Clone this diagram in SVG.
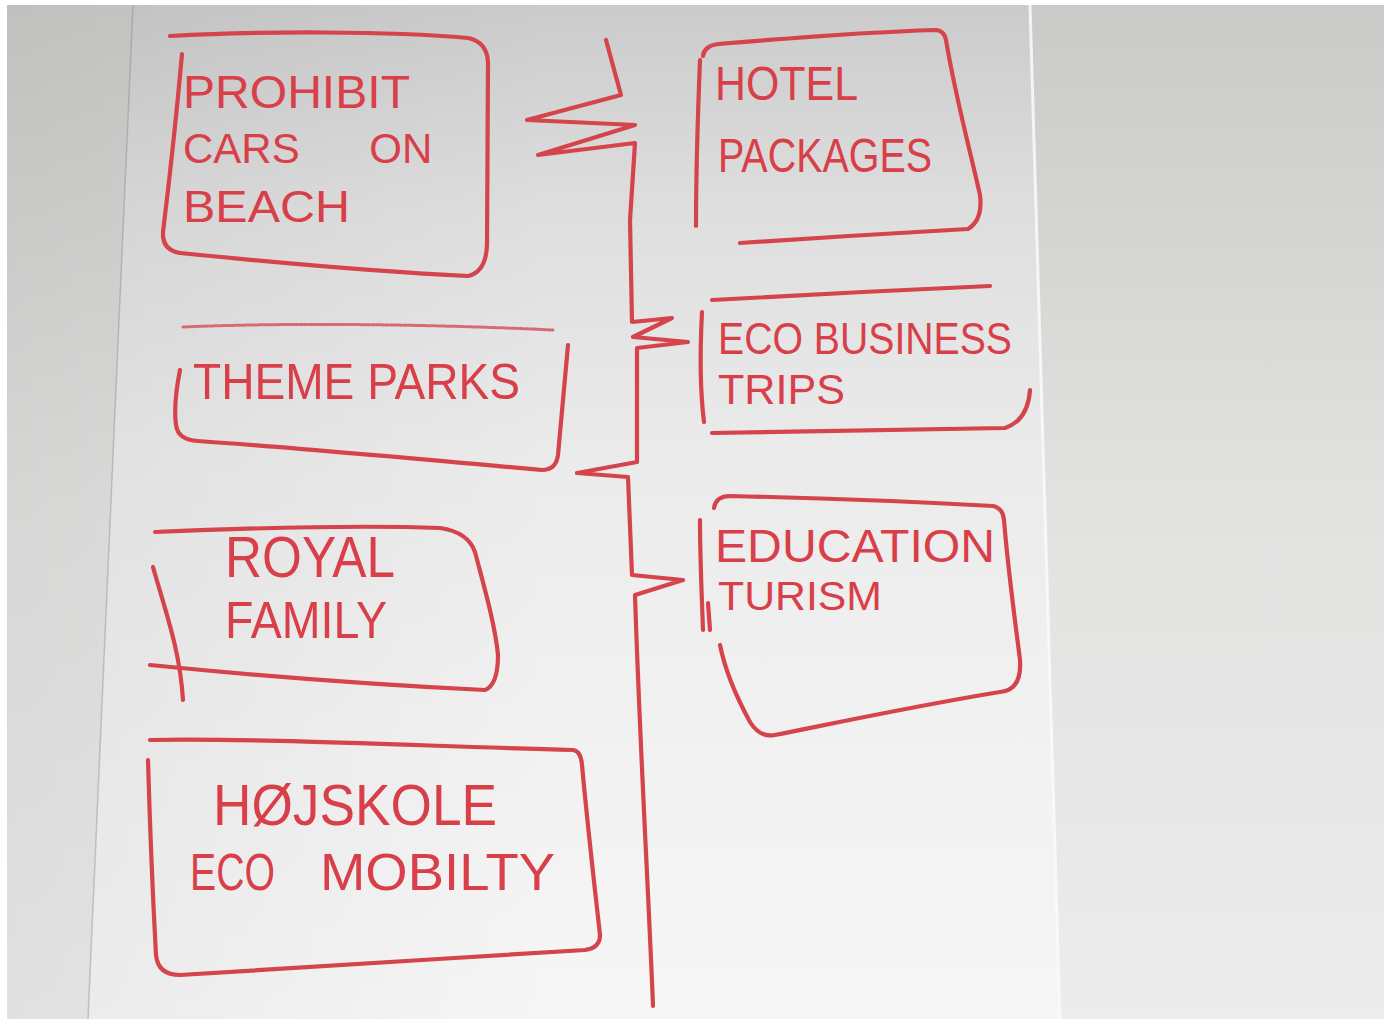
<svg xmlns="http://www.w3.org/2000/svg" width="1384" height="1019" viewBox="0 0 1384 1019">
<style>
.ink{fill:none;stroke:#d5434b;stroke-width:4.2;stroke-linecap:round;stroke-linejoin:round}
.thin{fill:none;stroke:#d66a70;stroke-width:3;stroke-dasharray:3 1.5;stroke-linecap:round}
.t{font-family:"Liberation Sans","DejaVu Sans",sans-serif;fill:#d83f48}
</style>
<defs>
<linearGradient id="paper" x1="0" y1="0" x2="0" y2="1">
<stop offset="0" stop-color="#cbcbcb"/>
<stop offset="0.2" stop-color="#dedede"/>
<stop offset="0.45" stop-color="#ebebeb"/>
<stop offset="0.75" stop-color="#f2f2f2"/>
<stop offset="1" stop-color="#f6f6f6"/>
</linearGradient>
<linearGradient id="wall" x1="0" y1="0" x2="0" y2="1">
<stop offset="0" stop-color="#cacac8"/>
<stop offset="0.5" stop-color="#e2e2e1"/>
<stop offset="1" stop-color="#ececec"/>
</linearGradient>
<linearGradient id="shade" x1="0" y1="0" x2="1" y2="0">
<stop offset="0" stop-color="#000" stop-opacity="0.05"/>
<stop offset="0.4" stop-color="#000" stop-opacity="0"/>
</linearGradient>
</defs>
<rect x="0" y="0" width="1384" height="1019" fill="#ffffff"/>
<rect x="7" y="5" width="1377" height="1014" fill="url(#wall)"/>
<polygon points="133,5 1030,5 1060,1019 88,1019" fill="url(#paper)"/>
<rect x="7" y="5" width="1377" height="1014" fill="url(#shade)"/>
<line x1="1030" y1="5" x2="1060" y2="1019" stroke="#fbfbfb" stroke-width="3" opacity="0.85"/>
<line x1="133" y1="5" x2="88" y2="1019" stroke="#7a7a7a" stroke-width="1.5" opacity="0.35"/>

<g id="connectors">
<path class="ink" d="M606,40 L621,95 L527,120 L635,125 L538,155 L635,143 L630,220 L632,322 L672,318 L633,337 L688,342 L637,348 L637,462 L577,473 L628,477 L632,575 L683,580 L635,595 C640,750 648,880 653,1006"/>
</g>

<g id="node-prohibit">
<path class="ink" d="M170,36 C260,31 390,31 468,38 Q487,42 488,62 L487,245 Q486,272 468,276 C380,272 260,261 180,253"/>
<path class="ink" d="M182,54 C177,110 170,175 163,232 Q162,250 180,253"/>
<text class="t" x="183" y="108" font-size="46" textLength="227" lengthAdjust="spacingAndGlyphs">PROHIBIT</text>
<text class="t" x="183" y="163" font-size="42" word-spacing="58">CARS ON</text>
<text class="t" x="183" y="222" font-size="44" textLength="167" lengthAdjust="spacingAndGlyphs">BEACH</text>
</g>

<g id="node-hotel">
<path class="ink" d="M703,56 Q704,46 718,44 C790,38 870,32 935,30 Q944,30 946,40 C955,95 970,150 980,195 Q983,220 968,229 C900,233 810,238 740,243"/>
<path class="ink" d="M700,60 C698,110 696,170 696,226"/>
<text class="t" x="715" y="100" font-size="48" textLength="143" lengthAdjust="spacingAndGlyphs">HOTEL</text>
<text class="t" x="718" y="172" font-size="48" textLength="214" lengthAdjust="spacingAndGlyphs">PACKAGES</text>
</g>

<g id="node-theme">
<path class="thin" d="M183,327 C300,322 450,325 553,330"/>
<path class="ink" d="M180,370 C176,390 174,410 176,425 Q178,440 198,441 C300,448 430,460 542,470 Q556,470 558,455 L568,345"/>
<text class="t" x="193" y="399" font-size="50" textLength="327" lengthAdjust="spacingAndGlyphs">THEME PARKS</text>
</g>

<g id="node-eco-business">
<path class="ink" d="M712,300 C800,295 900,290 990,286"/>
<path class="ink" d="M702,312 C700,350 700,390 704,422"/>
<path class="ink" d="M1030,390 Q1028,420 1005,428 C900,430 800,432 712,433"/>
<text class="t" x="718" y="354" font-size="44" textLength="294" lengthAdjust="spacingAndGlyphs">ECO BUSINESS</text>
<text class="t" x="718" y="404" font-size="42" textLength="127" lengthAdjust="spacingAndGlyphs">TRIPS</text>
</g>

<g id="node-education">
<path class="ink" d="M714,508 Q716,496 730,496 C820,498 920,502 993,506 Q1003,508 1004,520 C1008,570 1015,620 1020,660 Q1022,690 1000,692 C920,705 840,722 775,735 Q760,738 750,722 C738,700 726,675 720,645"/>
<path class="ink" d="M700,520 C700,560 702,600 703,630"/>
<path class="ink" d="M708,603 L710,630"/>
<text class="t" x="715" y="562" font-size="46" textLength="280" lengthAdjust="spacingAndGlyphs">EDUCATION</text>
<text class="t" x="718" y="610" font-size="40" textLength="164" lengthAdjust="spacingAndGlyphs">TURISM</text>
</g>

<g id="node-royal">
<path class="ink" d="M155,532 C250,528 360,525 440,528 Q468,532 475,552 C485,590 495,625 498,655 Q498,685 485,690 C380,685 250,675 150,665"/>
<path class="ink" d="M153,567 C165,610 180,650 183,700"/>
<text class="t" x="225" y="577" font-size="58" textLength="170" lengthAdjust="spacingAndGlyphs">ROYAL</text>
<text class="t" x="225" y="638" font-size="52" textLength="162" lengthAdjust="spacingAndGlyphs">FAMILY</text>
</g>

<g id="node-hojskole">
<path class="ink" d="M150,740 C260,738 420,746 573,750 Q581,751 582,765 C588,830 595,890 600,935 Q600,948 585,950 C450,958 300,968 180,975 Q158,975 156,955 C153,900 150,830 148,760"/>
<text class="t" x="213" y="825" font-size="58" textLength="284" lengthAdjust="spacingAndGlyphs">HØJSKOLE</text>
<text class="t" x="190" y="890" font-size="52" textLength="85" lengthAdjust="spacingAndGlyphs">ECO</text>
<text class="t" x="320" y="890" font-size="52" textLength="235" lengthAdjust="spacingAndGlyphs">MOBILTY</text>
</g>
</svg>
